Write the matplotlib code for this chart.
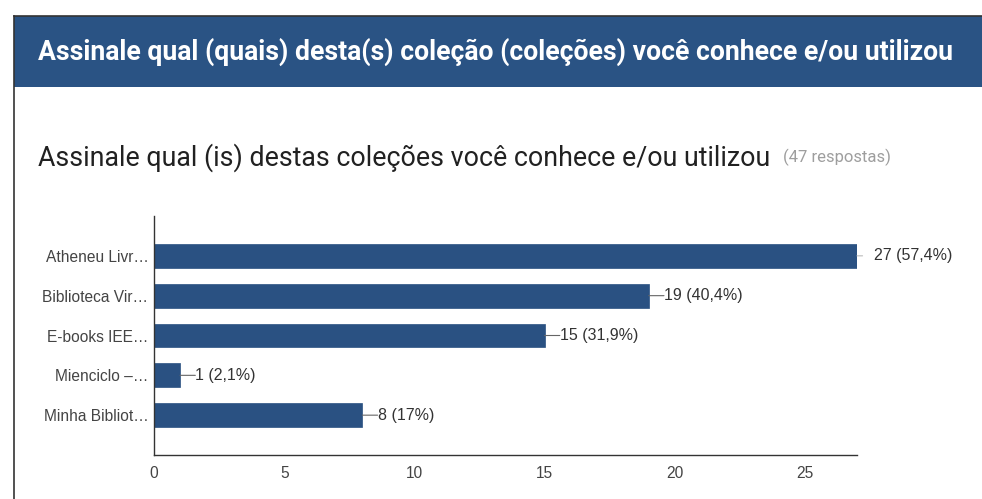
import matplotlib.pyplot as plt
from matplotlib.patches import Rectangle
from matplotlib.lines import Line2D

# data
categories = ["Atheneu Livr…", "Biblioteca Vir…", "E-books IEE…", "Mienciclo –…", "Minha Bibliot…"]
counts = [27, 19, 15, 1, 8]
percents = ["57,4%", "40,4%", "31,9%", "2,1%", "17%"]
xticks = [0, 5, 10, 15, 20, 25]

W, H = 982, 499
fig = plt.figure(figsize=(W / 100, H / 100), dpi=100)
fig.patch.set_facecolor("white")

# header band and frame
fig.patches.append(Rectangle((14 / W, 1 - 87 / H), 1 - 14 / W, 71 / H,
                             transform=fig.transFigure, facecolor="#2a5384",
                             edgecolor="none", zorder=0))
fig.lines.append(Line2D([13.5 / W, 13.5 / W], [0, 1 - 16 / H], transform=fig.transFigure,
                        color="#333333", lw=1.2))
fig.lines.append(Line2D([13.5 / W, 1], [1 - 16 / H, 1 - 16 / H], transform=fig.transFigure,
                        color="#333333", lw=1.2))

fig.text(38 / W, 1 - 52 / H, "Assinale qual (quais) desta(s) coleção (coleções) você conhece e/ou utilizou",
         color="white", fontsize=19.2, fontfamily="Roboto", fontweight="bold",
         va="center", ha="left")
fig.text(38 / W, 1 - 158 / H, "Assinale qual (is) destas coleções você conhece e/ou utilizou",
         color="#212121", fontsize=19.25, fontfamily="Roboto", va="center", ha="left")
fig.text(783 / W, 1 - 157 / H, "(47 respostas)", color="#9e9e9e", fontsize=12,
         fontfamily="Roboto", va="center", ha="left")

ax = fig.add_axes([154 / W, 1 - 455 / H, (857 - 154) / W, (455 - 216) / H])
ypos = list(range(len(categories)))
ax.barh(ypos, counts, height=0.6, color="#2a5182", edgecolor="#2a5182", lw=0.5)
ax.set_xlim(0, 27)
ax.set_ylim(len(categories), -1)
ax.set_yticks(ypos)
ax.set_yticklabels(categories)
ax.set_xticks(xticks)
for s in ["top", "right"]:
    ax.spines[s].set_visible(False)
for s in ["left", "bottom"]:
    ax.spines[s].set_color("#333333")
    ax.spines[s].set_linewidth(1)
ax.tick_params(length=0, colors="#444444", labelsize=11.2)
ax.tick_params(axis="y", pad=4)
ax.tick_params(axis="x", pad=8)
for lab in ax.get_xticklabels() + ax.get_yticklabels():
    lab.set_fontfamily("Liberation Sans")

for y, c, p in zip(ypos, counts, percents):
    if c == max(counts):
        ax.annotate("", xy=(c, y), xytext=(4, 0), textcoords="offset points",
                    arrowprops=dict(arrowstyle="-", color="#bbbbbb", lw=0.8, shrinkA=0, shrinkB=0),
                    annotation_clip=False)
        ax.annotate(f"{c} ({p})", xy=(c, y), xytext=(12, 0), textcoords="offset points",
                    va="center", ha="left", fontsize=11.5, color="#333333",
                    fontfamily="Liberation Sans", annotation_clip=False)
    else:
        ax.annotate("", xy=(c, y), xytext=(11, 0), textcoords="offset points",
                    arrowprops=dict(arrowstyle="-", color="#666666", lw=0.8, shrinkA=0, shrinkB=0))
        ax.annotate(f"{c} ({p})", xy=(c, y), xytext=(11, 0), textcoords="offset points",
                    va="center", ha="left", fontsize=11.5, color="#333333",
                    fontfamily="Liberation Sans")

fig.savefig("out.png", dpi=100)
